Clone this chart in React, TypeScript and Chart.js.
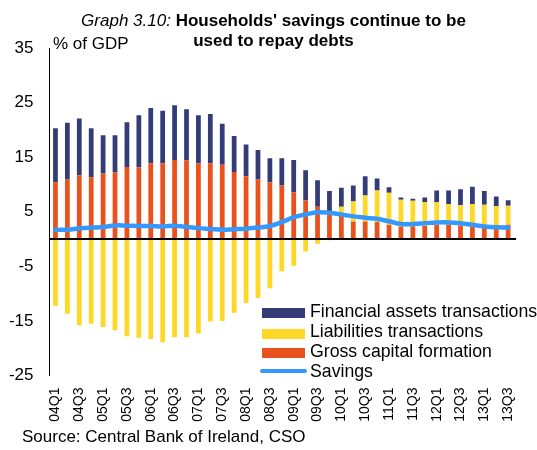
import React, { useEffect, useRef } from 'react';
import { Chart, registerables } from 'chart.js';

Chart.register(...registerables);

const FONT = '"Liberation Sans", Arial, Helvetica, sans-serif';

const quarters = [
  '04Q1', '04Q2', '04Q3', '04Q4',
  '05Q1', '05Q2', '05Q3', '05Q4',
  '06Q1', '06Q2', '06Q3', '06Q4',
  '07Q1', '07Q2', '07Q3', '07Q4',
  '08Q1', '08Q2', '08Q3', '08Q4',
  '09Q1', '09Q2', '09Q3', '09Q4',
  '10Q1', '10Q2', '10Q3', '10Q4',
  '11Q1', '11Q2', '11Q3', '11Q4',
  '12Q1', '12Q2', '12Q3', '12Q4',
  '13Q1', '13Q2', '13Q3',
];

const grossCapitalFormation = [
  10.4, 10.9, 11.7, 11.3,
  12.0, 12.2, 13.2, 13.1,
  13.9, 13.9, 14.5, 14.4,
  13.9, 13.9, 13.6, 12.3,
  11.5, 10.9, 10.4, 9.8,
  8.55, 7.1, 5.9, 5.0,
  4.2, 3.2, 3.2, 3.1,
  2.6, 2.3, 2.35, 2.4,
  2.6, 2.6, 2.5, 2.3,
  2.1, 2.0, 2.6,
];

const liabilitiesTransactions = [
  -12.2, -13.7, -15.8, -15.5,
  -16.1, -16.7, -17.8, -18.1,
  -18.3, -18.9, -18.0, -18.0,
  -17.3, -15.1, -15.0, -13.5,
  -11.7, -10.8, -9.0, -5.9,
  -4.9, -2.3, -0.85, -0.2,
  1.7, 3.7, 4.8, 5.8,
  5.9, 4.9, 4.65, 4.4,
  4.2, 3.8, 3.7, 4.1,
  4.2, 4.0, 3.5,
];

const financialAssetsTransactions = [
  9.9, 10.4, 10.4, 9.0,
  7.0, 6.8, 8.2, 9.6,
  10.1, 9.6, 10.0, 9.4,
  8.8, 9.0, 7.5, 6.6,
  5.8, 5.4, 4.4, 5.0,
  5.95, 5.5, 4.85, 3.8,
  3.5, 2.9, 3.5, 2.2,
  1.0, 0.4, 0.4, 0.8,
  2.1, 2.5, 2.9, 3.2,
  2.5, 1.8, 1.0,
];

const savings = [
  1.7, 1.7, 1.95, 2.1,
  2.2, 2.5, 2.45, 2.4,
  2.4, 2.3, 2.45, 2.2,
  2.0, 1.85, 1.7, 1.8,
  1.9, 2.1, 2.4, 3.1,
  4.0, 4.5, 4.9, 4.8,
  4.5, 4.15, 3.9, 3.7,
  3.25, 2.75, 2.75, 2.9,
  3.05, 3.05, 2.9, 2.6,
  2.3, 2.15, 2.1,
];

const yMin = -25;
const yMax = 35;
const yStep = 10;

const seriesNames = [
  'Financial assets transactions',
  'Liabilities transactions',
  'Gross capital formation',
  'Savings',
];

const NAVY = '#333C77';
const YELLOW = '#FFD726';
const ORANGE = '#E9521C';
const BLUE = '#3399FF';

const zeroLinePlugin = {
  id: 'zeroLine',
  afterDatasetsDraw(chart: any) {
    const { ctx, chartArea, scales } = chart;
    const y = scales.y.getPixelForValue(0);
    ctx.save();
    ctx.strokeStyle = '#000';
    ctx.lineWidth = 2;
    ctx.beginPath();
    ctx.moveTo(chartArea.left, y);
    ctx.lineTo(chartArea.right + 2, y);
    ctx.stroke();
    ctx.restore();
  },
};

export default function App() {
  const canvasRef = useRef<HTMLCanvasElement | null>(null);

  useEffect(() => {
    if (!canvasRef.current) return;
    const chart = new Chart(canvasRef.current, {
      type: 'bar',
      data: {
        labels: quarters,
        datasets: [
          {
            type: 'line',
            label: seriesNames[3],
            data: savings,
            borderColor: BLUE,
            backgroundColor: BLUE,
            borderWidth: 4.5,
            tension: 0.4,
            pointRadius: 0,
            fill: false,
            stack: 'savings',
            order: -1,
            borderCapStyle: 'round',
            borderJoinStyle: 'round',
          } as any,
          {
            label: seriesNames[2],
            data: grossCapitalFormation,
            backgroundColor: ORANGE,
            stack: 'bars',
            barPercentage: 0.4,
            categoryPercentage: 1,
          },
          {
            label: seriesNames[1],
            data: liabilitiesTransactions,
            backgroundColor: YELLOW,
            stack: 'bars',
            barPercentage: 0.4,
            categoryPercentage: 1,
          },
          {
            label: seriesNames[0],
            data: financialAssetsTransactions,
            backgroundColor: NAVY,
            stack: 'bars',
            barPercentage: 0.4,
            categoryPercentage: 1,
          },
        ],
      },
      options: {
        responsive: false,
        maintainAspectRatio: false,
        devicePixelRatio: 1,
        animation: false,
        layout: { padding: { top: 48, right: 3.6, left: 0, bottom: 0 } },
        plugins: {
          legend: { display: false },
          tooltip: { enabled: false },
          title: { display: false },
        },
        scales: {
          x: {
            stacked: true,
            grid: { display: false, drawTicks: false },
            border: { display: false },
            ticks: {
              autoSkip: false,
              minRotation: 90,
              maxRotation: 90,
              padding: 12,
              color: '#000',
              font: { size: 14, family: FONT },
              callback: (_v: any, i: number) => (i % 2 === 0 ? quarters[i] : ''),
            },
            afterFit: (s: any) => {
              s.height = 74.5;
            },
          },
          y: {
            stacked: true,
            min: yMin,
            max: yMax,
            ticks: {
              stepSize: yStep,
              padding: 16,
              color: '#000',
              font: { size: 17, family: FONT },
            },
            grid: { display: false, drawTicks: false },
            border: { display: true, color: '#000', width: 1 },
            afterFit: (s: any) => {
              s.width = 49.5;
            },
          },
        },
      },
      plugins: [zeroLinePlugin],
    });
    return () => chart.destroy();
  }, []);

  const textBase: React.CSSProperties = {
    position: 'absolute',
    fontFamily: FONT,
    color: '#000',
    whiteSpace: 'nowrap',
    lineHeight: '20px',
  };

  const legendRows = [
    { name: seriesNames[0], color: NAVY, top: 301.2, marker: 'box', mTop: 308 },
    { name: seriesNames[1], color: YELLOW, top: 321.2, marker: 'box', mTop: 328.5 },
    { name: seriesNames[2], color: ORANGE, top: 341.2, marker: 'box', mTop: 348.3 },
    { name: seriesNames[3], color: BLUE, top: 361.2, marker: 'line', mTop: 369 },
  ];

  return (
    <div style={{ position: 'absolute', left: 0, top: 0, width: 537, height: 450, background: '#fff', overflow: 'hidden' }}>
      <canvas ref={canvasRef} width={537} height={450} style={{ position: 'absolute', left: 0, top: 0, display: 'block' }} />
      <div style={{ ...textBase, left: 0, top: 10.6, width: 547, textAlign: 'center', fontSize: 17 }}>
        <span style={{ fontStyle: 'italic' }}>Graph 3.10:</span>{' '}
        <span style={{ fontWeight: 'bold' }}>Households' savings continue to be</span>
        <br />
        <span style={{ fontWeight: 'bold' }}>used to repay debts</span>
      </div>
      <div style={{ ...textBase, left: 53, top: 34, fontSize: 17 }}>% of GDP</div>
      {legendRows.map((r) => (
        <React.Fragment key={r.name}>
          {r.marker === 'box' ? (
            <div style={{ position: 'absolute', left: 262, top: r.mTop, width: 43, height: 10, background: r.color }} />
          ) : (
            <div style={{ position: 'absolute', left: 260, top: r.mTop, width: 47, height: 4.3, borderRadius: 2.2, background: r.color }} />
          )}
          <div style={{ ...textBase, left: 310, top: r.top, fontSize: 17.7 }}>{r.name}</div>
        </React.Fragment>
      ))}
      <div style={{ ...textBase, left: 22, top: 427, fontSize: 17 }}>Source: Central Bank of Ireland, CSO</div>
    </div>
  );
}
